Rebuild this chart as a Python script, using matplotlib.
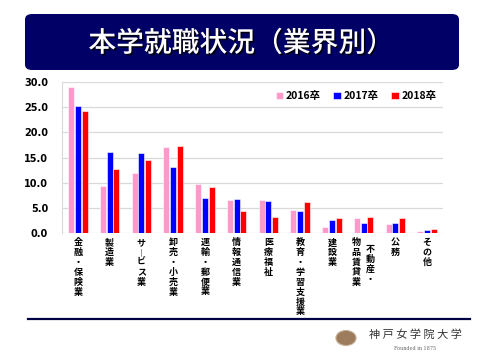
import numpy as np
import matplotlib
matplotlib.use("Agg")
import matplotlib.pyplot as plt
import matplotlib.patches as mpatches
import matplotlib.patheffects as pe

plt.rcParams['font.family'] = ['Noto Sans CJK JP', 'DejaVu Sans']

# data (percent of graduates by industry)
categories = ["金融・保険業", "製造業", "サービス業", "卸売・小売業", "運輸・郵便業",
              "情報通信業", "医療福祉", "教育・学習支援業", "建設業",
              "不動産・物品賃貸業", "公務", "その他"]
# vertical label columns (right column first)
label_cols = [["金融・保険業"], ["製造業"], ["サ︱ビス業"], ["卸売・小売業"], ["運輸・郵便業"],
              ["情報通信業"], ["医療福祉"], ["教育・学習支援業"], ["建設業"],
              ["不動産・", "物品賃貸業"], ["公務"], ["その他"]]
years = ["2016卒", "2017卒", "2018卒"]
v2016 = [29.0, 9.4, 12.0, 17.1, 9.8, 6.5, 6.5, 4.5, 1.2, 2.9, 1.8, 0.3]
v2017 = [25.3, 16.0, 15.8, 13.1, 7.0, 6.7, 6.3, 4.3, 2.5, 1.9, 1.9, 0.5]
v2018 = [24.3, 12.7, 14.6, 17.2, 9.1, 4.4, 3.2, 6.2, 2.9, 3.1, 2.9, 0.7]
yticks = [0, 5, 10, 15, 20, 25, 30]
colors = ["#FF99CC", "#0000FF", "#FF0000"]

fig = plt.figure(figsize=(4.8, 3.6), dpi=100)
fig.patch.set_facecolor("white")

# title banner
banner = mpatches.FancyBboxPatch((25 / 480, 1 - 70 / 360), 434 / 480, 56 / 360,
                                 boxstyle="round,pad=0,rounding_size=0.015",
                                 transform=fig.transFigure, facecolor="#000066",
                                 edgecolor="none")
fig.patches.append(banner)
fig.text(241 / 480, 1 - 43 / 360, "本学就職状況（業界別）", color="white", fontsize=20,
         fontweight="medium", ha="center", va="center",
         path_effects=[pe.withSimplePatchShadow(offset=(1.2, -1.2), shadow_rgbFace="black", alpha=0.8)])

ax = fig.add_axes([62 / 480, 1 - 232.7 / 360, 381 / 480, 150.4 / 360])
x = np.arange(len(categories))
w = 0.19
step = 0.215
for i, (vals, c, lab) in enumerate(zip([v2016, v2017, v2018], colors, years)):
    ax.bar(x + (i - 1) * step, vals, w, color=c, edgecolor="white", linewidth=0.4,
           label=lab, zorder=3)

ax.set_xlim(-0.5, len(categories) - 0.5)
ax.set_ylim(0, 30)
ax.set_yticks(yticks)
ax.set_yticklabels(["%.1f" % t for t in yticks], fontsize=7, fontweight="bold",
                   family="DejaVu Sans")
ax.tick_params(axis="y", length=0, pad=10)
ax.tick_params(axis="x", length=0, labelbottom=False)
ax.grid(axis="y", color="#D9D9D9", linewidth=0.9, zorder=0)
for s in ["top", "right", "bottom"]:
    ax.spines[s].set_visible(False)
ax.spines["left"].set_color("#D9D9D9")

# vertical (tategaki) category labels
for xi, cols in zip(x, label_cols):
    n = len(cols)
    for j, col in enumerate(cols):
        dx = (n - 1) * 0.22 - j * 0.45
        dy = 5 if (n > 1 and j == 0) else 0
        ax.annotate("\n".join(col), (xi + dx, 0), xycoords="data",
                    xytext=(0, -4 - dy), textcoords="offset points",
                    ha="center", va="top", fontsize=6.5, fontweight="bold",
                    linespacing=1.12)

leg = ax.legend(loc="upper right", bbox_to_anchor=(1.0, 0.985), ncol=3, frameon=False,
                fontsize=7.5, handlelength=0.7, handleheight=0.7, handletextpad=0.3,
                columnspacing=1.2, borderaxespad=0.2)
for t in leg.get_texts():
    t.set_fontweight("bold")

# footer line and logo
fig.add_artist(plt.Line2D([28 / 480, 470 / 480], [1 - 319 / 360, 1 - 319 / 360],
                          color="#000044", linewidth=1.6, transform=fig.transFigure))
fig.patches.append(mpatches.Circle((346 / 480, 1 - 338 / 360), 0.021,
                                   transform=fig.transFigure, facecolor="#9C7C5C",
                                   edgecolor="#C8B49C", linewidth=0.8))
fig.text(415 / 480, 1 - 335 / 360, "神 戸 女 学 院 大 学", fontsize=8, color="#333333",
         ha="center", va="center")
fig.text(415 / 480, 1 - 349 / 360, "Founded in 1875", fontsize=3.5, color="#666666",
         ha="center", va="center", family="DejaVu Serif")

fig.savefig("out.png", dpi=100)
